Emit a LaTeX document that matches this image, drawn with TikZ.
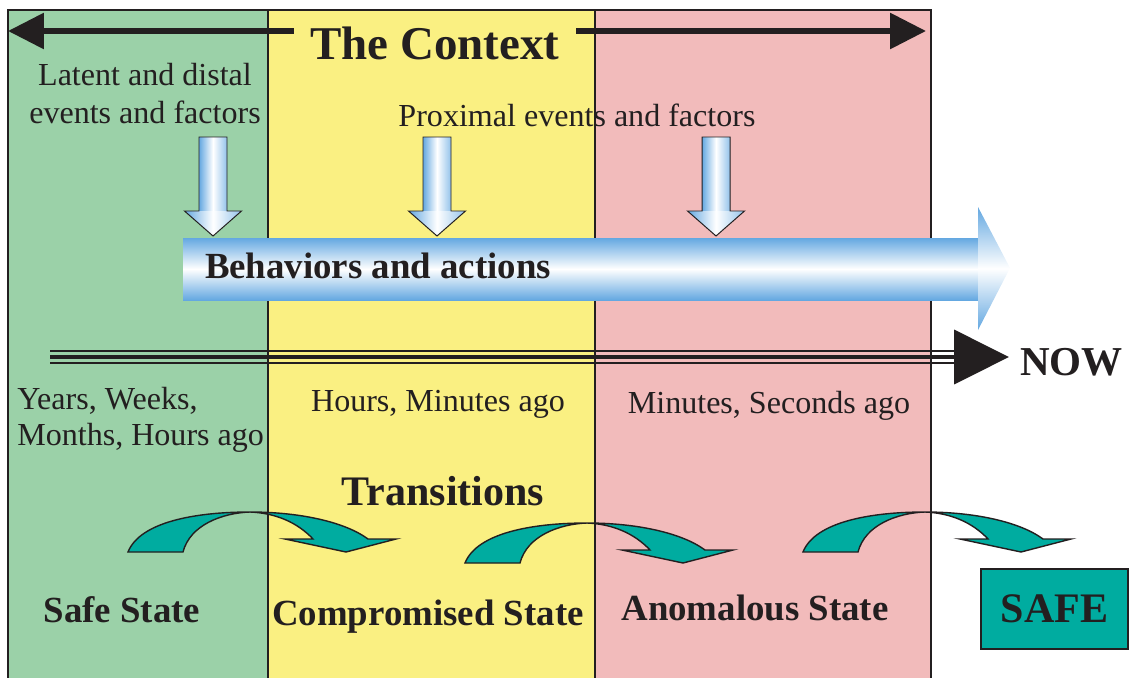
\documentclass[tikz,border=0pt]{standalone}
\usepackage{fontspec}
\setmainfont{Liberation Serif}
\usetikzlibrary{arrows.meta}

\definecolor{safegreen}{RGB}{155,209,168}
\definecolor{compyellow}{RGB}{250,240,130}
\definecolor{anompink}{RGB}{242,187,187}
\definecolor{turnteal}{RGB}{0,172,160}
\definecolor{actblue}{RGB}{100,168,225}
\definecolor{ink}{RGB}{35,31,32}

\newcommand{\txtnorm}{\fontsize{22.8pt}{26.3pt}\selectfont}
\newcommand{\txtstate}{\fontsize{26.2pt}{30pt}\selectfont\bfseries}
\newcommand{\txtbig}{\fontsize{29.9pt}{34pt}\selectfont\bfseries}

\tikzset{
	column/.style={draw=ink, line width=0.9pt},
	lbl/.style={inner sep=0pt, text=ink, font=\txtnorm},
	statelbl/.style={inner sep=0pt, text=ink, font=\txtstate},
	biglbl/.style={inner sep=0pt, text=ink, font=\txtbig},
	ctxline/.style={draw=ink, line width=4.3pt, -{Triangle[length=25.6pt,width=24.9pt]}},
	tlthin/.style={draw=ink, line width=1.1pt, shorten >=39pt},
	tlthick/.style={draw=ink, line width=2.4pt, -{Triangle[length=39pt,width=38.4pt]}},
	actshade/.style={top color=actblue, bottom color=actblue, middle color=white},
	dnshade/.style={left color=actblue, right color=actblue!70, middle color=white},
	dnline/.style={draw=ink, line width=0.7pt, line join=miter},
	turnarrow/.style={fill=turnteal, draw=ink, line width=1pt, line join=miter},
	safebox/.style={fill=turnteal, draw=ink, line width=1pt, inner sep=0pt,
		minimum width=104.6pt, minimum height=56.9pt, text=ink, font=\txtbig}
}

\begin{document}
\begin{tikzpicture}[x=0.025cm, y=-0.025cm]
	\useasboundingbox (0,0) rectangle (1129,677);

	% columns
	\draw [column, fill=safegreen] (8,10) rectangle (268,680);
	\draw [column, fill=compyellow] (268,10) rectangle (595,680);
	\draw [column, fill=anompink] (595,10) rectangle (931,680);

	% the context
	\node [biglbl, font=\fontsize{33.4pt}{38pt}\selectfont\bfseries, inner xsep=11.5pt, anchor=base] (ctx) at (435,59) {The Context};
	\coordinate (ctxl) at (8,31);
	\coordinate (ctxr) at (926,31);
	\draw [ctxline] (ctx.west |- ctxl) -- (ctxl);
	\draw [ctxline] (ctx.east |- ctxr) -- (ctxr);

	% events
	\node [lbl, align=center, anchor=base, font=\fontsize{22.8pt}{26.6pt}\selectfont] (latent) at (145,123) {Latent and distal\\events and factors};
	\node [lbl, anchor=base] (proximal) at (577,126) {Proximal events and factors};

	% down arrows
	\shade [dnshade] (199,137) rectangle (227,211);
	\shade [dnshade] (184.5,211) -- (241.5,211) -- (213,236) -- cycle;
	\draw [dnline] (199,137) -- (227,137) -- (227,211) -- (241.5,211) -- (213,236) -- (184.5,211) -- (199,211) -- cycle;
	\shade [dnshade] (423,137) rectangle (451,211);
	\shade [dnshade] (408.5,211) -- (465.5,211) -- (437,236) -- cycle;
	\draw [dnline] (423,137) -- (451,137) -- (451,211) -- (465.5,211) -- (437,236) -- (408.5,211) -- (423,211) -- cycle;
	\shade [dnshade] (702,137) rectangle (730,211);
	\shade [dnshade] (687.5,211) -- (744.5,211) -- (716,236) -- cycle;
	\draw [dnline] (702,137) -- (730,137) -- (730,211) -- (744.5,211) -- (716,236) -- (687.5,211) -- (702,211) -- cycle;

	% behaviors
	\shade [actshade] (183,238) rectangle (978,300);
	\shade [actshade] (978,207) -- (1010,268) -- (978,330) -- cycle;
	\node [statelbl, anchor=base] (behav) at (378,278) {Behaviors and actions};

	% time line
	\node [biglbl, font=\fontsize{29.2pt}{34pt}\selectfont\bfseries, inner xsep=7.8pt, anchor=base west] (now) at (1009,375) {NOW};
	\coordinate (tla) at (50,351);
	\coordinate (tlb) at (50,357);
	\coordinate (tlc) at (50,363);
	\draw [tlthin] (tla) -- (tla -| now.west);
	\draw [tlthin] (tlc) -- (tlc -| now.west);
	\draw [tlthick] (tlb) -- (tlb -| now.west);

	% time labels
	\node [lbl, align=left, anchor=base west, font=\fontsize{22.8pt}{24.9pt}\selectfont] (yrs) at (17,445) {Years, Weeks,\\Months, Hours ago};
	\node [lbl, anchor=base] (hrs) at (438,411) {Hours, Minutes ago};
	\node [lbl, anchor=base] (mins) at (769,413) {Minutes, Seconds ago};

	% transitions
	\node [biglbl, anchor=base] (trans) at (443,505) {Transitions};
	\draw [turnarrow] (128,552) .. controls (140,522) and (195,512) .. (250,512) .. controls (300,512) and (345,522) .. (368,539) -- (396,539) -- (346,552) -- (285,539) -- (313,539) .. controls (297,522) and (275,513) .. (250,512) .. controls (222,513) and (190,525) .. (183,552) -- cycle;
	\draw [turnarrow, shift={(337,11)}] (128,552) .. controls (140,522) and (195,512) .. (250,512) .. controls (300,512) and (345,522) .. (368,539) -- (396,539) -- (346,552) -- (285,539) -- (313,539) .. controls (297,522) and (275,513) .. (250,512) .. controls (222,513) and (190,525) .. (183,552) -- cycle;
	\draw [turnarrow, shift={(675,0)}] (128,552) .. controls (140,522) and (195,512) .. (250,512) .. controls (300,512) and (345,522) .. (368,539) -- (396,539) -- (346,552) -- (285,539) -- (313,539) .. controls (297,522) and (275,513) .. (250,512) .. controls (222,513) and (190,525) .. (183,552) -- cycle;

	% states
	\node [statelbl, anchor=base] (safest) at (122,622) {Safe State};
	\node [statelbl, anchor=base] (compst) at (428,625) {Compromised State};
	\node [statelbl, anchor=base] (anomst) at (755,620) {Anomalous State};
	\node [safebox] (safe) at (1054.5,609) {SAFE};
\end{tikzpicture}
\end{document}
